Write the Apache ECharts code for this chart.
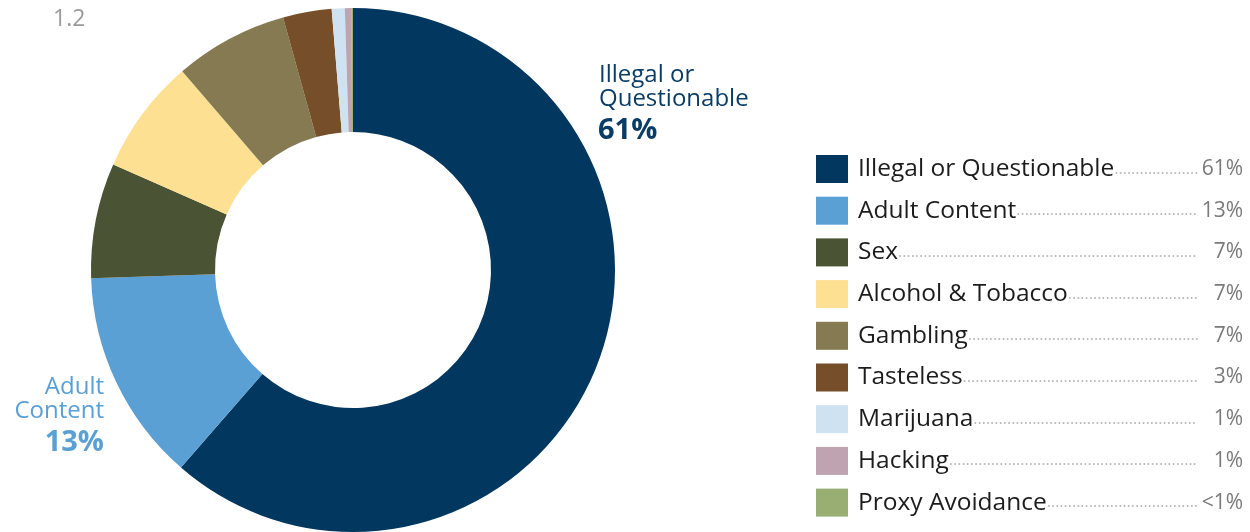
<!DOCTYPE html>
<html>
<head>
<meta charset="utf-8">
<script src="https://cdn.jsdelivr.net/npm/echarts@6/dist/echarts.min.js"></script>
<style>
  html, body { margin: 0; padding: 0; background: #fff; }
  #chart { width: 1250px; height: 532px; }
</style>
</head>
<body>
<div id="chart"></div>
<script>
const categories = ["Illegal or Questionable", "Adult Content", "Sex", "Alcohol & Tobacco", "Gambling", "Tasteless", "Marijuana", "Hacking", "Proxy Avoidance"];
const shares = [61.4, 13.1, 7.1, 7.1, 7.0, 3.0, 0.8, 0.4, 0.1];
const shareLabels = ["61%", "13%", "7%", "7%", "7%", "3%", "1%", "1%", "<1%"];
const colors = ["#02375f", "#5aa0d4", "#4a5334", "#fde092", "#857a52", "#764e2a", "#cfe2f2", "#bfa3b0", "#98ae72"];

const FONT = '"Open Sans", "Noto Sans", sans-serif';
const NAME_SIZE = 24.5;
const DOT_SIZE = 16;
const PCT_SIZE = 21;
const LEADER_WIDTH = 342; // name + dots
const ROW_WIDTH = 385;    // name + dots + percentage

// measure text so the dotted leader fills the gap up to the percentage
const ctx = document.createElement("canvas").getContext("2d");
const measure = (txt, size) => {
  ctx.font = size + "px " + FONT;
  return ctx.measureText(txt).width;
};
const dotWidth = measure(".", DOT_SIZE);

const rich = {
  n: { fontSize: NAME_SIZE, color: "#1c1c1c", fontFamily: FONT, padding: [0, 0, 0, 5], lineHeight: 28 },
  d: { fontSize: DOT_SIZE, color: "#b8b8b8", fontFamily: FONT, lineHeight: 28 },
};
const legendText = {};
categories.forEach((name, i) => {
  const nw = measure(name, NAME_SIZE);
  const n = Math.max(0, Math.floor((LEADER_WIDTH - nw) / dotWidth));
  const used = nw + n * dotWidth;
  rich["p" + i] = { fontSize: PCT_SIZE, color: "#7a7a7a", fontFamily: FONT, width: ROW_WIDTH - used, align: "right", lineHeight: 28 };
  legendText[name] = `{n|${name}}{d|${".".repeat(n)}}{p${i}|${shareLabels[i]}}`;
});

const chart = echarts.init(document.getElementById("chart"));

chart.setOption({
  animation: false,
  title: {
    text: "1.2",
    left: 48,
    top: 3,
    textStyle: { color: "#9a9a9a", fontSize: 23, fontWeight: "normal", fontFamily: FONT },
  },
  legend: {
    orient: "vertical",
    left: 811,
    top: 150,
    itemWidth: 32,
    itemHeight: 28,
    itemGap: 13.7,
    icon: "rect",
    selectedMode: false,
    data: categories,
    formatter: (name) => legendText[name],
    textStyle: { fontFamily: FONT, rich },
  },
  graphic: [
    {
      type: "text",
      x: 599,
      y: 63,
      style: {
        text: "Illegal or\nQuestionable",
        fill: "#0a3d66",
        font: `24px ${FONT}`,
        lineHeight: 24,
      },
    },
    {
      type: "text",
      x: 598,
      y: 116,
      style: { text: "61%", fill: "#0a3d66", font: `bold 29px ${FONT}` },
    },
    {
      type: "text",
      x: 104,
      y: 375,
      style: {
        text: "Adult\nContent",
        fill: "#5aa0d4",
        font: `24px ${FONT}`,
        lineHeight: 24,
        align: "right",
      },
    },
    {
      type: "text",
      x: 104,
      y: 428,
      style: { text: "13%", fill: "#5aa0d4", font: `bold 29px ${FONT}`, align: "right" },
    },
  ],
  series: [
    {
      type: "pie",
      center: [353, 270],
      radius: [138, 262],
      startAngle: 90,
      clockwise: true,
      label: { show: false },
      labelLine: { show: false },
      emphasis: { disabled: true },
      data: categories.map((name, i) => ({
        name,
        value: shares[i],
        itemStyle: { color: colors[i] },
      })),
    },
  ],
});
</script>
</body>
</html>
